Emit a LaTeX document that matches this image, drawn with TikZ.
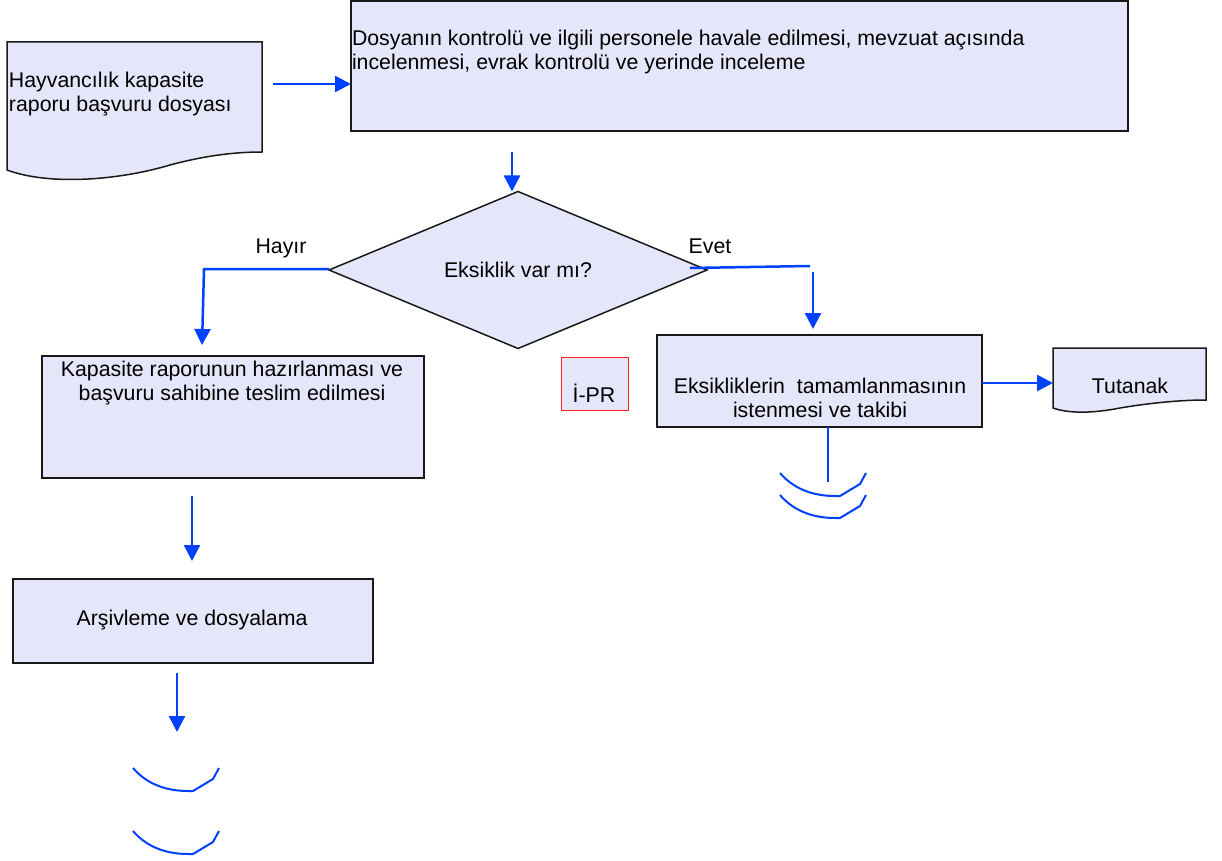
\documentclass[tikz,border=0pt]{standalone}
\usepackage{fontspec}
\setmainfont{Liberation Sans}
\usetikzlibrary{arrows.meta,shapes.geometric,calc}
\definecolor{fillc}{RGB}{230,230,250}
\definecolor{arrc}{RGB}{0,64,255}
\definecolor{edgec}{RGB}{25,25,25}
\definecolor{redc}{RGB}{255,30,30}
\tikzset{
  endarc/.pic={\draw[draw=arrc, line width=2pt] (0,0) .. controls (12,14) and (30,23) .. (55,23) -- (60,23) -- (80,11) -- (86,0);}
}
\begin{document}
\begin{tikzpicture}[x=1pt,y=-1pt,
  every node/.style={font=\fontsize{21.3}{24}\selectfont, inner sep=0pt, outer sep=0pt},
  box/.style={draw=edgec, line width=1.5pt, fill=fillc, rectangle},
  ghost/.style={rectangle, draw=none},
  shapeline/.style={draw=edgec, line width=1.5pt, fill=fillc},
  txt/.style={anchor=base},
  txtl/.style={anchor=base west},
  conn/.style={draw=arrc, line width=2.5pt},
  arr/.style={conn, -{Triangle[length=16pt,width=16pt]}}
]
\useasboundingbox (0,0) rectangle (1222,861);

% document shapes
\draw[shapeline] (7,42) -- (262,42) -- (262,152) .. controls (230,152) and (200,157) .. (170,165)
  .. controls (120,180) and (50,186) .. (7,170) -- cycle;
\node[ghost, minimum width=255pt, minimum height=128pt] (doc1) at (134.5,106) {};
\node[txtl] (d1a) at (9,88) {Hayvancılık kapasite};
\node[txtl] (d1b) at (9,112) {raporu başvuru dosyası};

\draw[shapeline] (1053,348) -- (1206,348) -- (1206,400) .. controls (1180,400) and (1150,403) .. (1120,408)
  .. controls (1095,413) and (1070,414) .. (1053,408) -- cycle;
\node[ghost, minimum width=153pt, minimum height=60pt] (tut) at (1129.5,378) {};
\node[txt] (tuttx) at (1130,393) {Tutanak};

% process boxes
\node[box, minimum width=777pt, minimum height=130pt] (proc1) at (739.5,66) {};
\node[txtl] (p1a) at (352,46) {Dosyanın kontrolü ve ilgili personele havale edilmesi, mevzuat açısında};
\node[txtl] (p1b) at (352,70) {incelenmesi, evrak kontrolü ve yerinde inceleme};

\node[box, shape=diamond, aspect=2.4, minimum width=378pt, minimum height=157pt] (dia) at (518,270) {Eksiklik var mı?};

\node[box, minimum width=382pt, minimum height=122pt] (kap) at (233,417) {};
\node[txt] (ka) at (232,376) {Kapasite raporunun hazırlanması ve};
\node[txt] (kb) at (232,400) {başvuru sahibine teslim edilmesi};

\node[box, minimum width=360pt, minimum height=84pt] (arsiv) at (193,621) {};
\node[txt] (artx) at (192,625) {Arşivleme ve dosyalama};

\node[box, minimum width=325pt, minimum height=92pt] (eks) at (819.5,381) {};
\node[txt] (ea) at (820,393) {Eksikliklerin~ tamamlanmasının};
\node[txt] (eb) at (820,417) {istenmesi ve takibi};

\node[box, draw=redc, line width=1pt, minimum width=67pt, minimum height=53pt] (ipr) at (594.5,383.5) {};
\node[txt] (iprtx) at (594,402) {İ-PR};

% labels
\node[txt] (hayir) at (281,253) {Hayır};
\node[txt] (evet) at (710,253) {Evet};

% connectors
\draw[arr] ($(doc1.east)+(11,-22)$) -- ($(proc1.west)+(0,18)$);
\draw[arr] ($(dia.north |- proc1.south)+(-6,21)$) -- ($(dia.north)+(-6,0)$);
\coordinate (hc) at (204,269);
\draw[arr] ($(dia.west)+(0,-1)$) -- (hc) -- ($(kap.north)+(-31,-11)$);
\coordinate (ec) at (810,266);
\draw[conn] ($(dia.east)+(-17,-2)$) -- (ec);
\draw[arr] ($(ec)+(3,6)$) -- ($(eks.north)+(-6.5,-6)$);
\draw[arr] ($(eks.east)+(0,2)$) -- ($(tut.west)+(0,5)$);
\draw[arr] ($(kap.south)+(-41,18)$) -- ($(arsiv.north)+(-1,-18)$);
\draw[arr] ($(arsiv.south)+(-16,10)$) -- ++(0,59);
\draw[conn] ($(eks.south)+(8.5,0)$) -- ++(0,55);

% end arcs
\pic at (780,473) {endarc};
\pic at (780,495) {endarc};
\pic at (133,768) {endarc};
\pic at (133,831) {endarc};
\end{tikzpicture}
\end{document}
